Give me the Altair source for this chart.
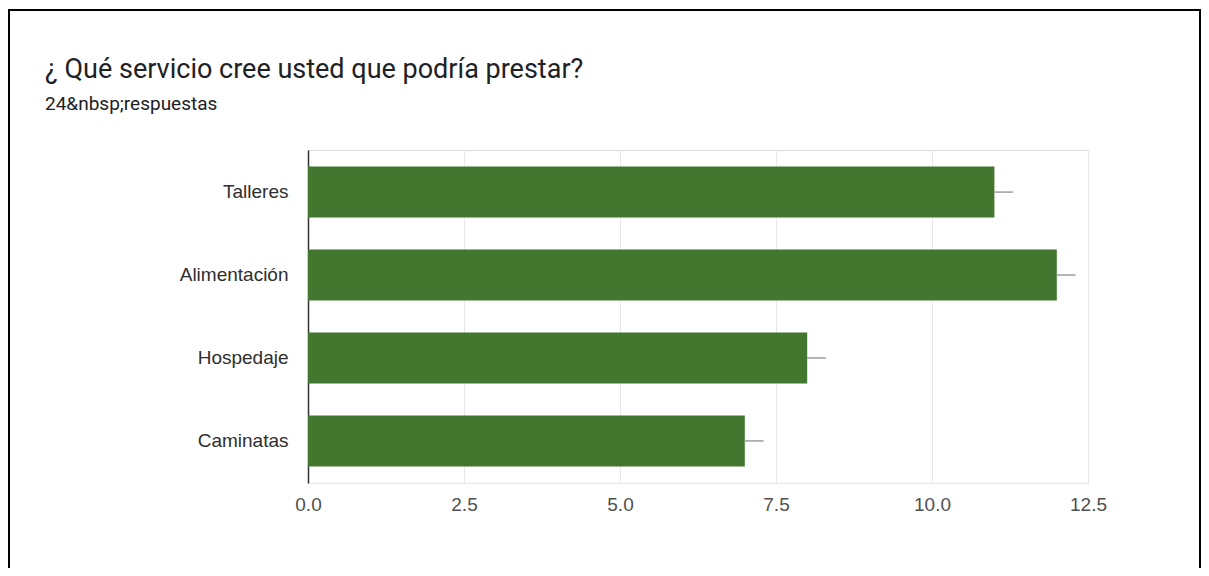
import altair as alt
import pandas as pd

categories = ["Talleres", "Alimentación", "Hospedaje", "Caminatas"]
values = [11, 12, 8, 7]
whisker = [0.3, 0.3, 0.3, 0.3]
tick_values = [0, 2.5, 5, 7.5, 10, 12.5]
title_text = "¿ Qué servicio cree usted que podría prestar?"
subtitle_text = "24&nbsp;respuestas"

df = pd.DataFrame({
    "cat": categories,
    "val": values,
    "hi": [v + w for v, w in zip(values, whisker)],
})

W, H = 780, 333
PL, PT = 300, 142
PR = 1193 - PL - W
PB = 560 - PT - H

y_enc = alt.Y(
    "cat:N", sort=categories, title=None,
    scale=alt.Scale(paddingInner=0.385, paddingOuter=0.2),
    axis=alt.Axis(labelFont="Liberation Sans", labelFontSize=19, labelColor="#2e2e2e",
                  labelPadding=20, ticks=False, domainColor="#333333", domainWidth=1.5,
                  grid=False),
)
x_enc = alt.X(
    "val:Q", title=None,
    scale=alt.Scale(domain=[0, 12.5], nice=False),
    axis=alt.Axis(values=tick_values, format=".1f", labelFont="Liberation Sans",
                  labelFontSize=19, labelColor="#505050", labelPadding=12, ticks=False,
                  domainColor="#e6e6e6", grid=True, gridColor="#e8e8e8", labelFlush=False),
)

bars = alt.Chart(df).mark_bar(color="#43762f").encode(x=x_enc, y=y_enc)
err = alt.Chart(df).mark_rule(color="#9e9e9e", strokeWidth=1.5).encode(
    x="val:Q", x2="hi:Q", y=alt.Y("cat:N", sort=categories)
)

one = pd.DataFrame({"k": [0]})
border = alt.Chart(one).mark_rect(fillOpacity=0, stroke="#000000", strokeWidth=2).encode(
    x=alt.value(-299), x2=alt.value(PR + W - 1), y=alt.value(-140), y2=alt.value(500)
)
title = alt.Chart(one).mark_text(
    text=title_text, font="Roboto", fontSize=27, color="#202124", align="left", baseline="alphabetic"
).encode(x=alt.value(-263), y=alt.value(-72))
subtitle = alt.Chart(one).mark_text(
    text=subtitle_text, font="Roboto", fontSize=19, color="#202124", align="left", baseline="alphabetic"
).encode(x=alt.value(-263), y=alt.value(-40))

chart = alt.layer(bars, err, border, title, subtitle).properties(
    width=W, height=H,
    autosize=alt.AutoSizeParams(type="none"),
    padding={"left": PL, "top": PT, "right": PR, "bottom": PB},
).configure_view(stroke="#e8e8e8").configure(background="white")

chart.save("out.html", embed_options={"renderer": "svg", "actions": False})
